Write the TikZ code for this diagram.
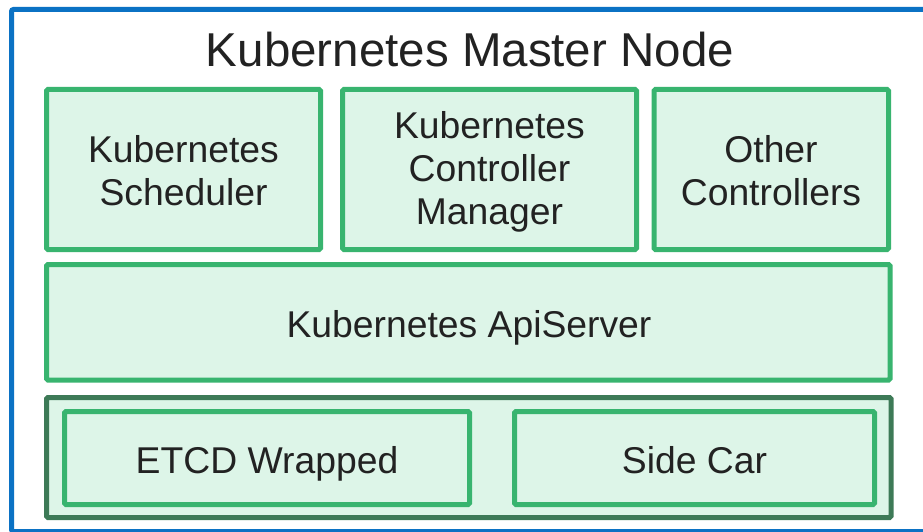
\documentclass[tikz,border=0pt]{standalone}
\usepackage{fontspec}
\setmainfont{Liberation Sans}
\definecolor{frameblue}{HTML}{0B72C4}
\definecolor{boxgreen}{HTML}{38B46F}
\definecolor{boxfill}{HTML}{DDF5E8}
\definecolor{darkgreen}{HTML}{3D7A57}
\definecolor{txt}{HTML}{222222}
\begin{document}
\begin{tikzpicture}[x=1pt,y=1pt,
  gbox/.style={draw=boxgreen,fill=boxfill,line width=5pt,rounded corners=1.5pt},
  dbox/.style={draw=darkgreen,fill=boxfill,line width=5pt,rounded corners=1.5pt},
  lbl/.style={text=txt,font=\fontsize{37.3}{43}\selectfont,align=center},
  ttl/.style={text=txt,font=\fontsize{47.5}{55}\selectfont}]
\useasboundingbox (0,0) rectangle (923,-532);
\clip (0,0) rectangle (923,-532);
\fill[white] (0,0) rectangle (923,-532);
\draw[frameblue,line width=5pt,rounded corners=2pt] (11.5,-9.5) rectangle (940,-531.5);
\node[ttl] (title) at (470,-50) {Kubernetes Master Node};
\draw[gbox] (46.5,-89.5) rectangle (320.5,-249.5);
\node[lbl] (sched) at (183.5,-171) {Kubernetes\\Scheduler};
\draw[gbox] (342.5,-89.5) rectangle (636.5,-249.5);
\node[lbl] (cm) at (489.5,-172) {Kubernetes\\Controller\\Manager};
\draw[gbox] (654,-89.5) rectangle (888.5,-249.5);
\node[lbl] (other) at (771,-171) {Other\\Controllers};
\draw[gbox] (46.5,-264.5) rectangle (890,-380);
\node[lbl,anchor=base] (api) at (469,-337) {Kubernetes ApiServer};
\draw[dbox] (46.5,-397.5) rectangle (891,-517.5);
\draw[gbox] (64.5,-411.5) rectangle (469.5,-504.5);
\node[lbl,anchor=base] (etcd) at (267,-473) {ETCD Wrapped};
\draw[gbox] (514.5,-411.5) rectangle (874.5,-504.5);
\node[lbl,anchor=base] (side) at (694.5,-473) {Side Car};
\end{tikzpicture}
\end{document}
